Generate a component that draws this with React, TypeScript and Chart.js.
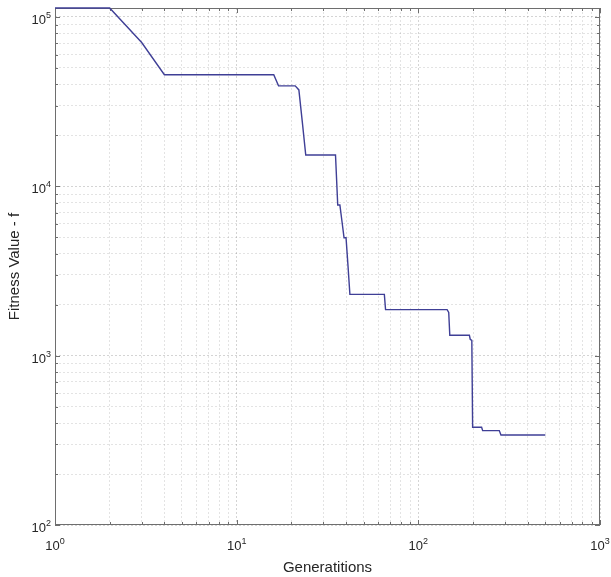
import React, { useEffect, useRef } from "react";
import { Chart, registerables } from "chart.js";

Chart.register(...registerables);

const generations = [1, 2, 3, 4, 16, 17, 21, 22, 23, 24, 35, 36, 37, 38, 39, 40, 41, 42, 65, 66, 144, 147, 149, 191, 193, 197, 199, 223, 226, 279, 285, 500];
const fitness = [113000, 113000, 70700, 45600, 45600, 39200, 39200, 37100, 23800, 15300, 15300, 7750, 7750, 6200, 4970, 4970, 3400, 2300, 2300, 1870, 1870, 1800, 1320, 1320, 1250, 1230, 378, 378, 361, 361, 340, 340];

const xMin = 1;
const xMax = 1000;
const yMin = 100;
const yMax = 113000;
const xDecades = [0, 1, 2, 3];
const yDecades = [2, 3, 4, 5];
const xTitle = "Generatitions";
const yTitle = "Fitness Value - f";

const FONT = "'Liberation Sans', Arial, Helvetica, sans-serif";
const TEXT = "#262626";

function logTicks(min: number, max: number) {
  const out: { value: number; major: boolean }[] = [];
  for (let e = Math.floor(Math.log10(min)); e <= Math.ceil(Math.log10(max)); e++) {
    for (let m = 1; m <= 9; m++) {
      const v = m * Math.pow(10, e);
      if (v >= min - 1e-9 && v <= max + 1e-9) out.push({ value: v, major: m === 1 });
    }
  }
  return out;
}

const xTickList = logTicks(xMin, xMax);
const yTickList = logTicks(yMin, yMax);

function isMajor(v: number) {
  const l = Math.log10(v);
  return Math.abs(l - Math.round(l)) < 1e-9;
}

const axesPlugin = {
  id: "matlabAxes",
  beforeDatasetsDraw(chart: any) {
    const { ctx, chartArea } = chart;
    const xs = chart.scales.x;
    const ys = chart.scales.y;
    const { left, right, top, bottom } = chartArea;
    ctx.save();
    ctx.strokeStyle = "#6e6e6e";
    ctx.lineWidth = 1;
    ctx.strokeRect(left + 0.5, top + 0.5, right - left - 1, bottom - top - 1);
    ctx.beginPath();
    xTickList.forEach((t) => {
      const px = Math.round(xs.getPixelForValue(t.value)) + 0.5;
      const len = t.major ? 5 : 3;
      ctx.moveTo(px, bottom);
      ctx.lineTo(px, bottom - len);
      ctx.moveTo(px, top);
      ctx.lineTo(px, top + len);
    });
    yTickList.forEach((t) => {
      const py = Math.round(ys.getPixelForValue(t.value)) + 0.5;
      const len = t.major ? 5 : 3;
      ctx.moveTo(left, py);
      ctx.lineTo(left + len, py);
      ctx.moveTo(right, py);
      ctx.lineTo(right - len, py);
    });
    ctx.stroke();
    ctx.restore();
  },
  afterDraw(chart: any) {
    const { ctx, chartArea } = chart;
    const xs = chart.scales.x;
    const ys = chart.scales.y;
    const { left, right, top, bottom } = chartArea;
    ctx.save();
    ctx.fillStyle = TEXT;
    const baseFont = `13px ${FONT}`;
    const supFont = `9px ${FONT}`;
    yDecades.forEach((e) => {
      const py = ys.getPixelForValue(Math.pow(10, e));
      ctx.font = supFont;
      const sw = ctx.measureText(String(e)).width;
      ctx.font = baseFont;
      const bw = ctx.measureText("10").width;
      const rightEdge = left - 4;
      ctx.textAlign = "left";
      ctx.textBaseline = "alphabetic";
      ctx.fillText("10", rightEdge - sw - bw, py + 7);
      ctx.font = supFont;
      ctx.fillText(String(e), rightEdge - sw, py + 1);
    });
    xDecades.forEach((e) => {
      const px = xs.getPixelForValue(Math.pow(10, e));
      ctx.font = supFont;
      const sw = ctx.measureText(String(e)).width;
      ctx.font = baseFont;
      const bw = ctx.measureText("10").width;
      const start = px - (bw + sw) / 2;
      ctx.textAlign = "left";
      ctx.textBaseline = "alphabetic";
      ctx.fillText("10", start, bottom + 25);
      ctx.font = supFont;
      ctx.fillText(String(e), start + bw, bottom + 19);
    });
    ctx.font = `15px ${FONT}`;
    ctx.textAlign = "center";
    ctx.textBaseline = "middle";
    ctx.fillText(xTitle, (left + right) / 2, bottom + 43);
    ctx.save();
    ctx.translate(15, (top + bottom) / 2);
    ctx.rotate(-Math.PI / 2);
    ctx.fillText(yTitle, 0, 0);
    ctx.restore();
    ctx.restore();
  },
};

export default function App() {
  const ref = useRef<HTMLCanvasElement | null>(null);
  useEffect(() => {
    if (!ref.current) return;
    const gridColor = (c: any) =>
      c.tick && isMajor(c.tick.value) ? "rgba(0,0,0,0.17)" : "rgba(0,0,0,0.11)";
    const chart = new Chart(ref.current, {
      type: "scatter",
      data: {
        datasets: [
          {
            data: generations.map((g, i) => ({ x: g, y: fitness[i] })),
            showLine: true,
            borderColor: "#3f3f96",
            borderWidth: 1.4,
            pointRadius: 0,
            fill: false,
            clip: false,
          } as any,
        ],
      },
      options: {
        animation: false,
        responsive: false,
        maintainAspectRatio: false,
        layout: { padding: { left: 55, right: 11, top: 8, bottom: 52 } },
        plugins: { legend: { display: false }, tooltip: { enabled: false } },
        scales: {
          x: {
            type: "logarithmic",
            min: xMin,
            max: xMax,
            afterBuildTicks: (s: any) => {
              s.ticks = xTickList.map((t) => ({ value: t.value }));
            },
            ticks: { display: false },
            grid: { drawTicks: false, color: gridColor, lineWidth: 1 },
            border: { display: false, dash: [2, 2] },
          },
          y: {
            type: "logarithmic",
            min: yMin,
            max: yMax,
            afterBuildTicks: (s: any) => {
              s.ticks = yTickList.map((t) => ({ value: t.value }));
            },
            ticks: { display: false },
            grid: { drawTicks: false, color: gridColor, lineWidth: 1 },
            border: { display: false, dash: [2, 2] },
          },
        },
      },
      plugins: [axesPlugin],
    });
    return () => chart.destroy();
  }, []);
  return (
    <div style={{ position: "absolute", left: 0, top: 0, width: 611, height: 577, background: "#fff" }}>
      <canvas ref={ref} width={611} height={577} style={{ width: 611, height: 577, display: "block" }} />
    </div>
  );
}
